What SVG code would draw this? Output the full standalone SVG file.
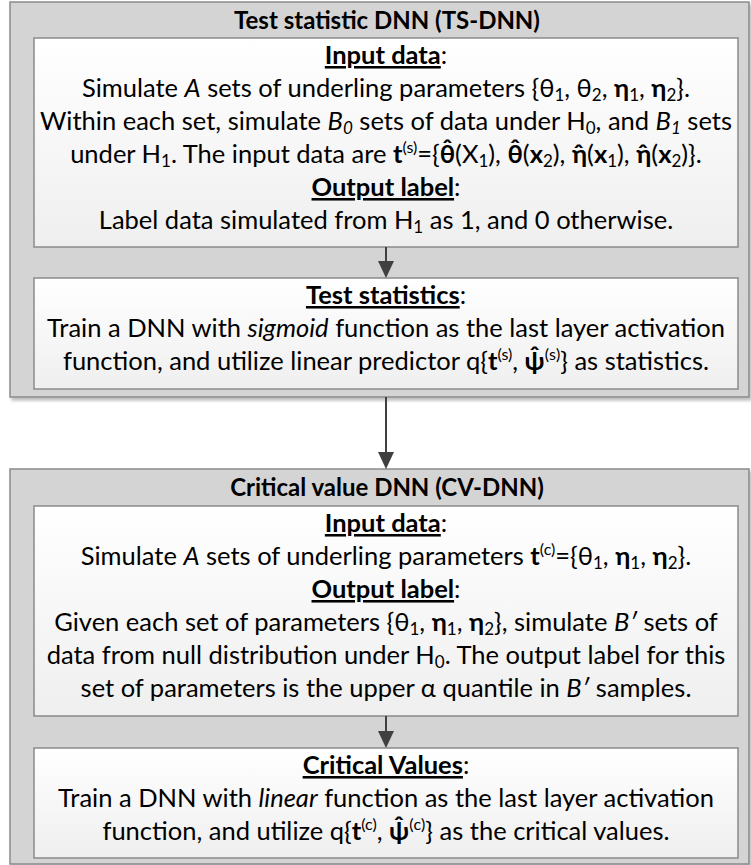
<svg xmlns="http://www.w3.org/2000/svg" width="751" height="865" viewBox="0 0 751 865">
  <style>
    text { font-family: Lato, "Open Sans", "Noto Sans", sans-serif; font-size: 25.5px; fill: #000; text-anchor: middle; }
    .title { font-weight: bold; font-size: 24px; }
    .head { font-weight: bold; text-decoration: underline; }
    .b { font-weight: bold; }
    .i { font-style: italic; }
    .sub { font-size: 17px; baseline-shift: -4px; }
    .sup { font-size: 16px; baseline-shift: 10px; }
    .outer { fill: #d4d4d4; stroke: #8a8a8a; stroke-width: 1.5; }
    .inner { fill: url(#innerFill); stroke: #8a8a8a; stroke-width: 1.5; }
    .link { stroke: #404040; stroke-width: 2; fill: none; marker-end: url(#head); }
  </style>
  <defs>
    <linearGradient id="innerFill" x1="0" y1="0" x2="0" y2="1">
      <stop offset="0" stop-color="#ffffff"/>
      <stop offset="1" stop-color="#efefef"/>
    </linearGradient>
    <filter id="shadow" x="-5%" y="-5%" width="110%" height="110%">
      <feGaussianBlur in="SourceAlpha" stdDeviation="1.5"/>
      <feOffset dx="2" dy="3" result="off"/>
      <feComponentTransfer><feFuncA type="linear" slope="0.25"/></feComponentTransfer>
      <feMerge><feMergeNode/><feMergeNode in="SourceGraphic"/></feMerge>
    </filter>
    <marker id="head" viewBox="0 0 17 16" refX="0" refY="8" markerWidth="17" markerHeight="16" markerUnits="userSpaceOnUse" orient="auto">
      <path d="M0,0 L17,8 L0,16 Z" fill="#404040"/>
    </marker>
  </defs>

  <!-- Test statistic network -->
  <g id="ts-dnn">
    <rect class="outer" x="10" y="2" width="739" height="395" filter="url(#shadow)"/>
    <text class="title" x="387" y="29">Test statistic DNN (TS-DNN)</text>
  </g>

  <g id="ts-input">
    <rect class="inner" x="34" y="38" width="704" height="209"/>
    <text x="386" y="64"><tspan class="head">Input data</tspan>:</text>
    <text x="386" y="97">Simulate <tspan class="i">A</tspan> sets of underling parameters {θ<tspan class="sub">1</tspan>, θ<tspan class="sub">2</tspan>, <tspan class="b">η</tspan><tspan class="sub">1</tspan>, <tspan class="b">η</tspan><tspan class="sub">2</tspan>}.</text>
    <text x="386" y="130">Within each set, simulate <tspan class="i">B</tspan><tspan class="i sub">0</tspan> sets of data under H<tspan class="sub">0</tspan>, and <tspan class="i">B</tspan><tspan class="i sub">1</tspan> sets</text>
    <text x="386" y="163">under H<tspan class="sub">1</tspan>. The input data are <tspan class="b">t</tspan><tspan class="sup">(s)</tspan>={<tspan class="b">θ̂</tspan>(X<tspan class="sub">1</tspan>), <tspan class="b">θ̂</tspan>(<tspan class="b">x</tspan><tspan class="sub">2</tspan>), <tspan class="b">η̂</tspan>(<tspan class="b">x</tspan><tspan class="sub">1</tspan>), <tspan class="b">η̂</tspan>(<tspan class="b">x</tspan><tspan class="sub">2</tspan>)}.</text>
    <text x="386" y="196"><tspan class="head">Output label</tspan>:</text>
    <text x="386" y="229">Label data simulated from H<tspan class="sub">1</tspan> as 1, and 0 otherwise.</text>
  </g>

  <g id="ts-statistics">
    <rect class="inner" x="34" y="278" width="704" height="111"/>
    <text x="386" y="304"><tspan class="head">Test statistics</tspan>:</text>
    <text x="386" y="337">Train a DNN with <tspan class="i">sigmoid</tspan> function as the last layer activation</text>
    <text x="386" y="370">function, and utilize linear predictor q{<tspan class="b">t</tspan><tspan class="sup">(s)</tspan>, <tspan class="b">ψ̂</tspan><tspan class="sup">(s)</tspan>} as statistics.</text>
  </g>

  <!-- Critical value network -->
  <g id="cv-dnn">
    <rect class="outer" x="10" y="469" width="739" height="395" filter="url(#shadow)"/>
    <text class="title" x="387" y="496">Critical value DNN (CV-DNN)</text>
  </g>

  <g id="cv-input">
    <rect class="inner" x="34" y="506" width="704" height="210"/>
    <text x="386" y="532"><tspan class="head">Input data</tspan>:</text>
    <text x="386" y="565">Simulate <tspan class="i">A</tspan> sets of underling parameters <tspan class="b">t</tspan><tspan class="sup">(c)</tspan>={θ<tspan class="sub">1</tspan>, <tspan class="b">η</tspan><tspan class="sub">1</tspan>, <tspan class="b">η</tspan><tspan class="sub">2</tspan>}.</text>
    <text x="386" y="598"><tspan class="head">Output label</tspan>:</text>
    <text x="386" y="631">Given each set of parameters {θ<tspan class="sub">1</tspan>, <tspan class="b">η</tspan><tspan class="sub">1</tspan>, <tspan class="b">η</tspan><tspan class="sub">2</tspan>}, simulate <tspan class="i">B′</tspan> sets of</text>
    <text x="386" y="664">data from null distribution under H<tspan class="sub">0</tspan>. The output label for this</text>
    <text x="386" y="697">set of parameters is the upper α quantile in <tspan class="i">B′</tspan> samples.</text>
  </g>

  <g id="cv-values">
    <rect class="inner" x="34" y="748" width="704" height="110"/>
    <text x="386" y="774"><tspan class="head">Critical Values</tspan>:</text>
    <text x="386" y="807">Train a DNN with <tspan class="i">linear</tspan> function as the last layer activation</text>
    <text x="386" y="840">function, and utilize q{<tspan class="b">t</tspan><tspan class="sup">(c)</tspan>, <tspan class="b">ψ̂</tspan><tspan class="sup">(c)</tspan>} as the critical values.</text>
  </g>

  <!-- Connectors -->
  <g id="connectors">
    <line class="link" x1="386" y1="247" x2="386" y2="261"/>
    <line class="link" x1="386" y1="397" x2="386" y2="452"/>
    <line class="link" x1="386" y1="716" x2="386" y2="731"/>
  </g>
</svg>
